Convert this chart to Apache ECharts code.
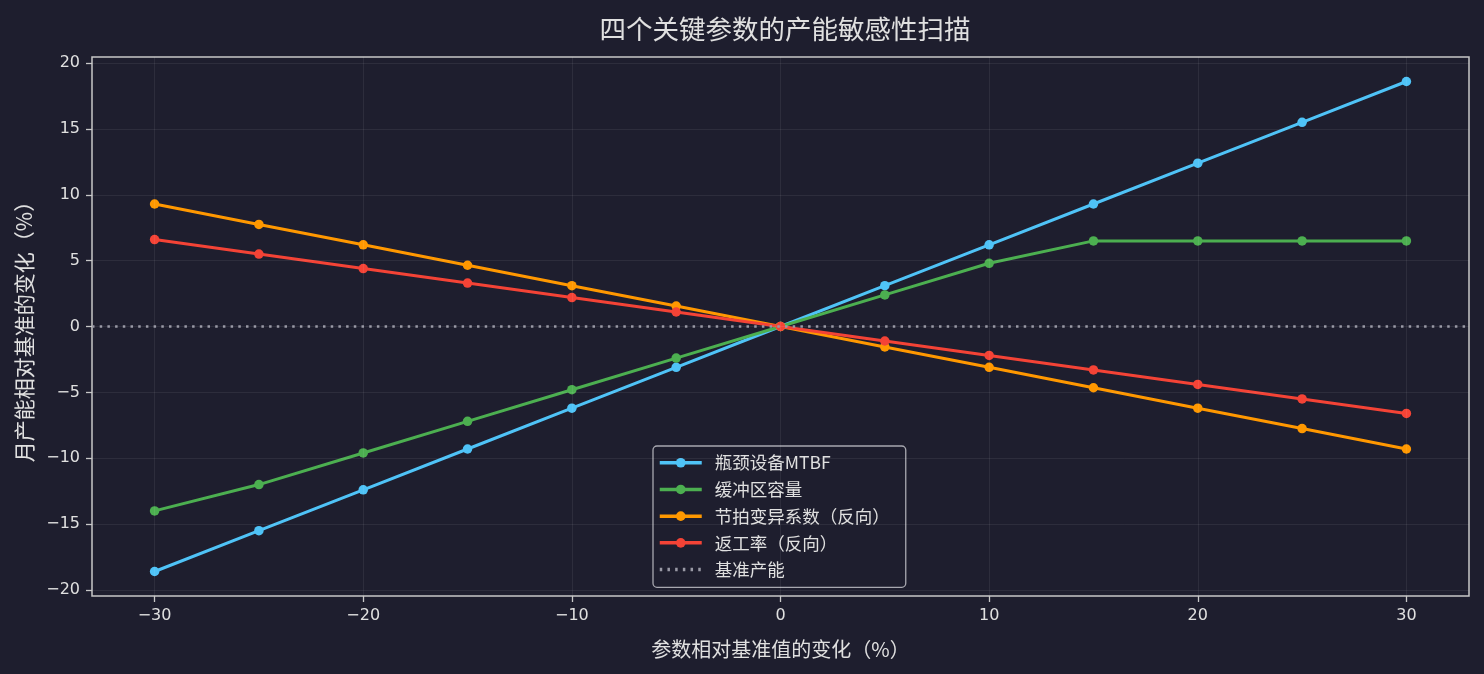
<!DOCTYPE html>
<html>
<head>
<meta charset="utf-8">
<script src="https://cdn.jsdelivr.net/npm/echarts@6/dist/echarts.min.js"></script>
<style>
html, body { margin: 0; padding: 0; background: #1e1e2e; }
#chart { width: 1484px; height: 674px; }
</style>
</head>
<body>
<div id="chart"></div>
<script>
// 参数变化幅度（%）
var changes = [-30, -25, -20, -15, -10, -5, 0, 5, 10, 15, 20, 25, 30];
var mtbf = [-18.6, -15.5, -12.4, -9.3, -6.2, -3.1, 0, 3.1, 6.2, 9.3, 12.4, 15.5, 18.6];
var buffer = [-14.0, -12.0, -9.6, -7.2, -4.8, -2.4, 0, 2.4, 4.8, 6.5, 6.5, 6.5, 6.5];
var cycleCv = [9.3, 7.75, 6.2, 4.65, 3.1, 1.55, 0, -1.55, -3.1, -4.65, -6.2, -7.75, -9.3];
var rework = [6.6, 5.5, 4.4, 3.3, 2.2, 1.1, 0, -1.1, -2.2, -3.3, -4.4, -5.5, -6.6];
var xTicks = [-30, -20, -10, 0, 10, 20, 30];
var yTicks = [-20, -15, -10, -5, 0, 5, 10, 15, 20];

var textColor = '#e0e0e0';
var font = '"Noto Sans CJK SC", "DejaVu Sans", sans-serif';
var tickFont = '"DejaVu Sans", "Noto Sans CJK SC", sans-serif';

function pairs(ys) {
    var out = [];
    for (var i = 0; i < changes.length; i++) {
        out.push([changes[i], ys[i]]);
    }
    return out;
}

function fmt(v) {
    return v < 0 ? '\u2212' + Math.abs(v) : String(v);
}

function lineSeries(name, ys, color) {
    return {
        name: name,
        type: 'line',
        data: pairs(ys),
        symbol: 'circle',
        symbolSize: 9.5,
        lineStyle: { color: color, width: 3 },
        itemStyle: { color: color },
        emphasis: { disabled: true },
        z: 3
    };
}

// 网格线只画在刻度处
var gridLines = [];
xTicks.forEach(function(v) { gridLines.push({ xAxis: v }); });
yTicks.forEach(function(v) { gridLines.push({ yAxis: v }); });

var chart = echarts.init(document.getElementById('chart'));
var option = {
    backgroundColor: '#1e1e2e',
    animation: false,
    textStyle: { fontFamily: font },
    title: {
        text: '四个关键参数的产能敏感性扫描',
        left: 780,
        textAlign: 'center',
        top: 11,
        textStyle: { color: textColor, fontSize: 26.5, fontWeight: 'normal', fontFamily: font }
    },
    grid: {
        left: 92, right: 15, top: 57, bottom: 78,
        show: true,
        borderColor: '#c8c8c8',
        borderWidth: 1.5,
        backgroundColor: 'transparent'
    },
    legend: {
        orient: 'vertical',
        left: 653,
        top: 446,
        padding: [8, 16, 9, 5],
        itemWidth: 42,
        itemHeight: 12,
        itemGap: 9.2,
        backgroundColor: '#1e1e2e',
        borderColor: '#a8a8b0',
        borderWidth: 1.3,
        borderRadius: 4,
        lineStyle: { width: 3.5 },
        textStyle: { color: textColor, fontSize: 17.5, fontFamily: font, padding: [0, 0, 0, 8] },
        data: ['瓶颈设备MTBF', '缓冲区容量', '节拍变异系数（反向）', '返工率（反向）',
            { name: '基准产能', itemStyle: { opacity: 0 } }]
    },
    xAxis: {
        type: 'value',
        min: -33,
        max: 33,
        name: '参数相对基准值的变化（%）',
        nameLocation: 'middle',
        nameGap: 43,
        nameTextStyle: { color: textColor, fontSize: 20, fontFamily: font },
        axisLine: { show: false, onZero: false },
        axisTick: { show: true, customValues: xTicks, length: 6, lineStyle: { color: '#c8c8c8', width: 1.3 } },
        axisLabel: { customValues: xTicks, color: textColor, fontSize: 16, margin: 12, formatter: fmt, fontFamily: tickFont },
        splitLine: { show: false }
    },
    yAxis: {
        type: 'value',
        min: -20.46,
        max: 20.46,
        name: '月产能相对基准的变化（%）',
        nameLocation: 'middle',
        nameRotate: 90,
        nameGap: 57,
        nameTextStyle: { color: textColor, fontSize: 21, fontFamily: font },
        axisLine: { show: false, onZero: false },
        axisTick: { show: true, customValues: yTicks, length: 6, lineStyle: { color: '#c8c8c8', width: 1.3 } },
        axisLabel: { customValues: yTicks, color: textColor, fontSize: 16, margin: 12, formatter: fmt, fontFamily: tickFont },
        splitLine: { show: false }
    },
    series: [
        {
            name: 'grid',
            type: 'line',
            data: [],
            silent: true,
            markLine: {
                silent: true,
                symbol: 'none',
                label: { show: false },
                lineStyle: { color: 'rgba(255,255,255,0.07)', width: 1, type: 'solid' },
                data: gridLines
            },
            z: 1
        },
        {
            name: '基准产能',
            type: 'line',
            data: [],
            symbol: 'none',
            lineStyle: { color: '#9a9aa6', width: 2.5, type: [2.5, 5.2] },
            itemStyle: { color: '#9a9aa6' },
            markLine: {
                silent: true,
                symbol: 'none',
                label: { show: false },
                lineStyle: { color: '#9a9aa6', width: 2.5, type: [2.5, 5.2] },
                data: [{ yAxis: 0 }]
            },
            z: 2
        },
        lineSeries('瓶颈设备MTBF', mtbf, '#4fc3f7'),
        lineSeries('缓冲区容量', buffer, '#4caf50'),
        lineSeries('节拍变异系数（反向）', cycleCv, '#ff9800'),
        lineSeries('返工率（反向）', rework, '#f44336')
    ]
};
chart.setOption(option);
</script>
</body>
</html>
